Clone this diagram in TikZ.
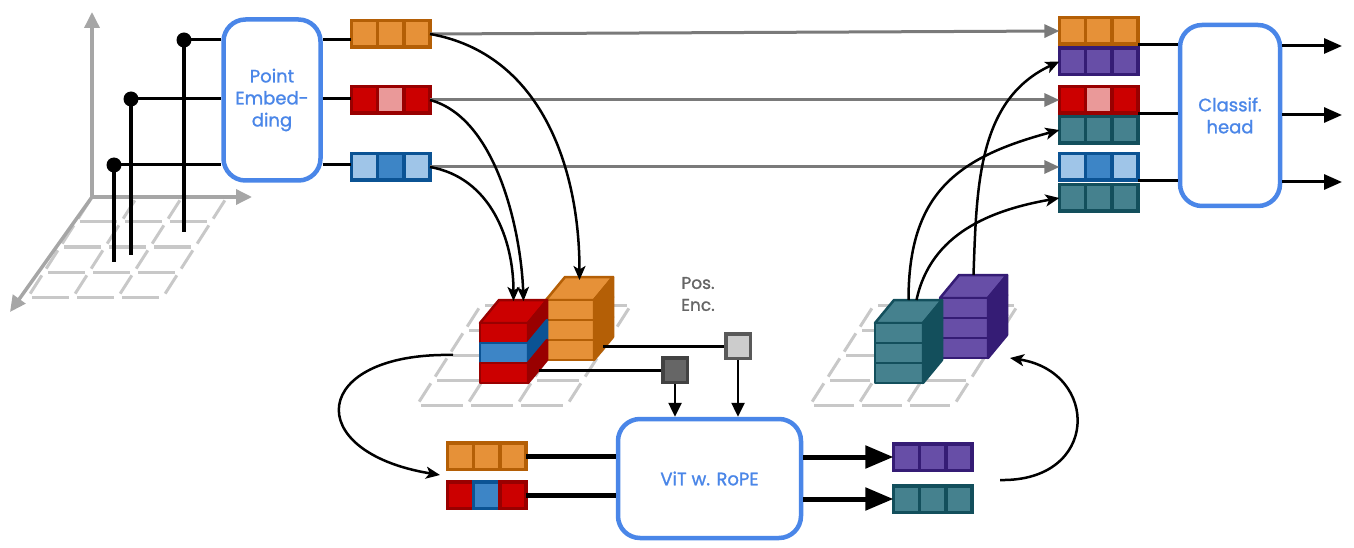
\documentclass[tikz,border=0pt]{standalone}
\usepackage{fontspec}
\setmainfont{Poppins}
\newfontfamily\labelfont[FakeBold=1.2]{Poppins}
\usetikzlibrary{positioning,arrows.meta}

\definecolor{boxblue}{HTML}{4A86E8}
\definecolor{orangeF}{HTML}{E69138}
\definecolor{orangeD}{HTML}{B45F06}
\definecolor{redF}{HTML}{CC0000}
\definecolor{redD}{HTML}{990000}
\definecolor{pinkF}{HTML}{EA9999}
\definecolor{pinkD}{HTML}{990000}
\definecolor{blueF}{HTML}{3D85C6}
\definecolor{blueD}{HTML}{0B5394}
\definecolor{lblueF}{HTML}{9FC5E8}
\definecolor{lblueD}{HTML}{0B5394}
\definecolor{purpF}{HTML}{674EA7}
\definecolor{purpD}{HTML}{351C75}
\definecolor{tealF}{HTML}{45818E}
\definecolor{tealD}{HTML}{134F5C}
\definecolor{gridgray}{HTML}{C8C8C8}
\definecolor{axisgray}{HTML}{A6A6A6}
\definecolor{arrgray}{HTML}{7A7A7A}
\definecolor{textgray}{HTML}{666666}

% three cells in a row: name, centre of first cell, colours
\newcommand{\tokenrow}[5]{%
  \node[cell, fill=#3F, draw=#3D] (#1-1) at #2 {};
  \node[cell, fill=#4F, draw=#4D, right=0pt of #1-1] (#1-2) {};
  \node[cell, fill=#5F, draw=#5D, right=0pt of #1-2] (#1-3) {};
}

% one band of a cube: front-left x, top y, colour
\newcommand{\cubelayer}[3]{%
  \draw[cubeline, fill=#3F, draw=#3D] (#1,#2) rectangle ++(48,-20);
  \draw[cubeline, fill=#3D, draw=#3D] (#1+48,#2) -- ++(19,23) -- ++(0,-20) -- ++(-19,-23) -- cycle;
}

% stacked cube: name, front-left x, front-top y, bands top to bottom
\newcommand{\cubeblock}[6]{%
  \draw[cubeline, fill=#4F, draw=#4D] (#2,#3) -- ++(48,0) -- ++(19,23) -- ++(-48,0) -- cycle;
  \cubelayer{#2}{#3}{#4}
  \cubelayer{#2}{#3-20}{#5}
  \cubelayer{#2}{#3-40}{#6}
  \coordinate (#1-top) at (#2+33.5,#3+23);
}

% dashed floor: bottom-left x, y, column width
\newcommand{\floorgrid}[3]{%
  \foreach \r in {0,...,4}
    \foreach \c in {0,1,2}
      \draw[gridline] (#1+\c*#3+\r*16,#2+\r*25) -- ++(#3,0);
  \foreach \c in {0,...,3}
    \foreach \r in {0,...,3}
      \draw[gridline] (#1+\c*#3+\r*16,#2+\r*25) -- ++(16,25);
}

\begin{document}
\begin{tikzpicture}[x=1pt, y=1pt,
    box/.style={draw=boxblue, line width=4.5pt, rounded corners=22pt, fill=white,
      align=center, text=boxblue, font=\labelfont\fontsize{18}{22}\selectfont},
    cell/.style={rectangle, line width=3.5pt, minimum width=26.2pt,
      minimum height=26.5pt, inner sep=0pt, outer sep=0pt},
    cubeline/.style={line width=2.5pt, line join=round},
    gridline/.style={draw=gridgray, line width=3pt, shorten >=4pt, shorten <=4pt},
    axis/.style={draw=axisgray, line width=3.5pt, -{Triangle[length=16pt,width=15pt]}},
    pin/.style={line width=4.5pt},
    dot/.style={circle, fill=black, inner sep=0pt, minimum size=15pt},
    feed/.style={line width=3pt},
    skip/.style={draw=arrgray, line width=3pt, -{Triangle[length=15pt,width=13pt]}},
    curvearrow/.style={line width=2.5pt, -{Stealth[length=14pt,width=12pt,inset=3.5pt]}},
    pearrow/.style={line width=2.5pt, -{Triangle[length=14pt,width=13pt]}},
    bigline/.style={line width=5pt},
    bigarrow/.style={line width=5pt, -{Triangle[length=28pt,width=22pt]}},
    headarrow/.style={line width=3pt, -{Triangle[length=18pt,width=15pt]}},
    posbox/.style={rectangle, line width=3.5pt, minimum size=24.5pt, inner sep=0pt}
  ]
  \useasboundingbox (0,0) rectangle (1354,547);

  % floors
  \floorgrid{28}{250}{45}
  \floorgrid{417}{142}{50}
  \floorgrid{810}{142}{48}

  % axes
  \coordinate (origin) at (92,350);
  \coordinate (ax-up) at (92,535);
  \coordinate (ax-right) at (252,350);
  \coordinate (ax-front) at (10,235);
  \draw[axis] (origin) -- (ax-up);
  \draw[axis] (origin) -- (ax-right);
  \draw[axis] (origin) -- (ax-front);

  % points
  \node[dot] (p1) at (184,507) {};
  \node[dot] (p2) at (131,448) {};
  \node[dot] (p3) at (114,382) {};
  \coordinate (p1-foot) at (184,315);
  \coordinate (p2-foot) at (131,292);
  \coordinate (p3-foot) at (114,285);
  \draw[pin] (p1.center) -- (p1-foot);
  \draw[pin] (p2.center) -- (p2-foot);
  \draw[pin] (p3.center) -- (p3-foot);

  \node[box, minimum width=97pt, minimum height=161pt] (embed) at (272,447) {Point\\Embed-\\ding};
  \draw[feed] (p1.center) -- (p1 -| embed.west);
  \draw[feed] (p2.center) -- (p2 -| embed.west);
  \draw[feed] (p3.center) -- (p3 -| embed.west);

  % tokens
  \tokenrow{ol}{(364.5,513)}{orange}{orange}{orange}
  \tokenrow{rl}{(364.5,447)}{red}{pink}{red}
  \tokenrow{bl}{(364.5,380)}{lblue}{blue}{lblue}
  \draw[feed] (embed.east |- p1) -- (ol-1.west |- p1);
  \draw[feed] (embed.east |- p2) -- (rl-1.west |- p2);
  \draw[feed] (embed.east |- p3) -- (bl-1.west |- p3);

  \tokenrow{or}{(1072.5,516)}{orange}{orange}{orange}
  \tokenrow{pr}{(1072.5,485.5)}{purp}{purp}{purp}
  \tokenrow{rr}{(1072.5,447)}{red}{pink}{red}
  \tokenrow{tr}{(1072.5,417)}{teal}{teal}{teal}
  \tokenrow{br}{(1072.5,380)}{lblue}{blue}{lblue}
  \tokenrow{tq}{(1072.5,349)}{teal}{teal}{teal}

  \draw[skip] (ol-3.east) -- (or-1.west);
  \draw[skip] (rl-3.east) -- (rr-1.west);
  \draw[skip] (bl-3.east) -- (br-1.west);

  % head
  \node[box, minimum width=100pt, minimum height=181pt] (head) at (1230,431.5) {Classif.\\head};
  \draw[feed] (or-3.south east) -- (or-3.south east -| head.west);
  \draw[feed] (rr-3.south east) -- (rr-3.south east -| head.west);
  \draw[feed] (br-3.south east) -- (br-3.south east -| head.west);
  \coordinate (y1) at (1342,501);
  \coordinate (y2) at (1342,432);
  \coordinate (y3) at (1342,365);
  \draw[headarrow] (head.east |- y1) -- (y1);
  \draw[headarrow] (head.east |- y2) -- (y2);
  \draw[headarrow] (head.east |- y3) -- (y3);

  % cubes
  \cubeblock{oc}{546}{247}{orange}{orange}{orange}
  \cubeblock{rc}{480}{224}{red}{blue}{red}
  \cubeblock{pc}{940}{249}{purp}{purp}{purp}
  \cubeblock{tc}{875}{224}{teal}{teal}{teal}

  \draw[curvearrow] (ol-3.east) to[out=-10,in=90] ([yshift=-3pt]oc-top);
  \draw[curvearrow] (rl-3.east) to[out=-15,in=92,looseness=0.8] ([xshift=10pt,yshift=-1pt]rc-top);
  \draw[curvearrow] (bl-3.east) to[out=-10,in=90] ([yshift=-1pt]rc-top);

  % positions
  \node[text=textgray, align=center, font=\labelfont\fontsize{17}{22}\selectfont] (posenc) at (698,253) {Pos.\\Enc.};
  \node[posbox, fill=black!20, draw=black!65] (pe1) at (738,201) {};
  \node[posbox, fill=black!60, draw=black!74] (pe2) at (675,177) {};
  \coordinate (oc-side) at (603,201);
  \coordinate (rc-side) at (539,177);
  \draw[feed] (oc-side) -- (pe1.west);
  \draw[feed] (rc-side) -- (pe2.west);

  % transformer
  \node[box, minimum width=183pt, minimum height=119pt] (vit) at (709.5,68.5) {ViT w. RoPE};
  \draw[pearrow] (pe2.south) -- (pe2.south |- vit.north);
  \draw[pearrow] (pe1.south) -- (pe1.south |- vit.north);

  \tokenrow{ob}{(460.5,91)}{orange}{orange}{orange}
  \tokenrow{mb}{(460.5,52)}{red}{blue}{red}
  \draw[bigline] (ob-3.east) -- (ob-3.east -| vit.west);
  \draw[bigline] (mb-3.east) -- (mb-3.east -| vit.west);

  \tokenrow{po}{(906.5,90)}{purp}{purp}{purp}
  \tokenrow{tb}{(906.5,48)}{teal}{teal}{teal}
  \draw[bigarrow] (vit.east |- po-1) -- (po-1.west);
  \draw[bigarrow] (vit.east |- tb-1) -- (tb-1.west);

  % loops
  \coordinate (loop-in) at (453,192);
  \coordinate (loop-in-end) at (440,72);
  \draw[curvearrow] (loop-in) .. controls (310,195) and (300,95) .. (loop-in-end);
  \coordinate (loop-out) at (1000,67);
  \coordinate (loop-out-end) at (1010,189);
  \draw[curvearrow] (loop-out) .. controls (1100,65) and (1100,175) .. (loop-out-end);

  \draw[curvearrow] (tc-top) to[out=90,in=195,looseness=1.2] (tr-1.west);
  \draw[curvearrow] ([xshift=8pt]tc-top) to[out=78,in=190] (tq-1.west);
  \draw[curvearrow] (pc-top) to[out=88,in=205] (pr-1.west);
\end{tikzpicture}
\end{document}
